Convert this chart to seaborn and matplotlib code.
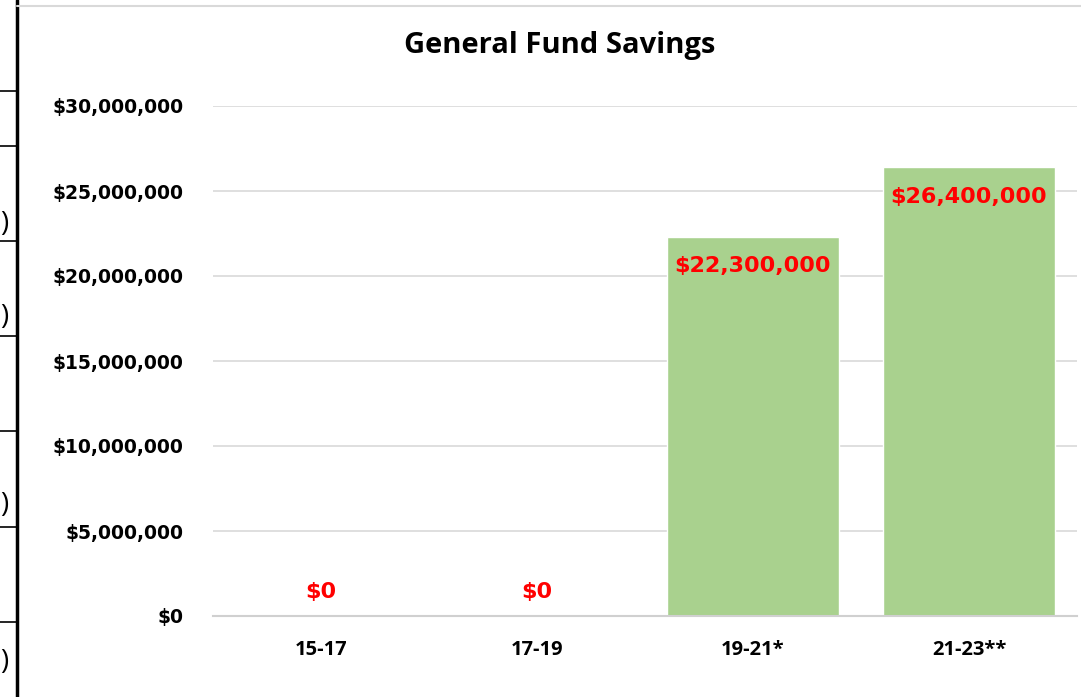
import matplotlib
matplotlib.use("Agg")
import matplotlib.pyplot as plt
from matplotlib.lines import Line2D
import seaborn as sns
import pandas as pd

# chart data
periods = ["15-17", "17-19", "19-21*", "21-23**"]
savings = [0, 0, 22300000, 26400000]
value_labels = ["$0", "$0", "$22,300,000", "$26,400,000"]
y_ticks = [0, 5000000, 10000000, 15000000, 20000000, 25000000, 30000000]

df = pd.DataFrame({"period": periods, "savings": savings})

sns.set_style("white")
plt.rcParams["font.family"] = ["Open Sans", "DejaVu Sans"]
plt.rcParams["text.color"] = "black"
plt.rcParams["xtick.color"] = "black"
plt.rcParams["ytick.color"] = "black"

W, H = 1081, 697
fig = plt.figure(figsize=(W / 100, H / 100), dpi=100)
ax = fig.add_axes([213 / W, 1 - 616 / H, (1077 - 213) / W, (616 - 106) / H])

sns.barplot(data=df, x="period", y="savings", color="#a9d18e", width=0.8,
            saturation=1, ax=ax, zorder=3)

ax.set_ylim(0, 30000000)
ax.set_yticks(y_ticks)
ax.set_yticklabels(["${:,.0f}".format(v) for v in y_ticks], fontsize=13.5,
                   fontweight="bold", family="DejaVu Sans")
ax.set_xticks(range(len(periods)))
ax.set_xticklabels(periods, fontsize=14.5, fontweight="bold")
ax.tick_params(axis="y", length=0, pad=21, labelcolor="black")
ax.tick_params(axis="x", length=0, pad=17, labelcolor="black")
ax.set_xlabel("")
ax.set_ylabel("")
ax.yaxis.grid(True, color="#d9d9d9", linewidth=1.2, zorder=0)
for s in ["top", "right", "left"]:
    ax.spines[s].set_visible(False)
ax.spines["bottom"].set_color("#d0d0d0")
ax.spines["bottom"].set_linewidth(1.5)
ax.spines["bottom"].set_zorder(4)

# data labels: inside end for bars, above the axis for zero values
for i, (v, lab) in enumerate(zip(savings, value_labels)):
    if v > 0:
        ax.annotate(lab, (i, v), xytext=(0, -14), textcoords="offset points",
                    ha="center", va="top", color="#ff0000", fontsize=16,
                    fontweight="bold", family="DejaVu Sans", zorder=5)
    else:
        ax.annotate(lab, (i, v), xytext=(0, 10), textcoords="offset points",
                    ha="center", va="bottom", color="#ff0000", fontsize=16,
                    fontweight="bold", family="DejaVu Sans", zorder=5)

fig.text(560 / W, 1 - 45 / H, "General Fund Savings", ha="center", va="center",
         fontsize=21, fontweight="bold", color="black")

# leftover table border from the source screenshot
fig.add_artist(Line2D([17 / W, 17 / W], [0, 1], color="black", linewidth=2.5))
fig.add_artist(Line2D([17 / W, 1], [1 - 6 / H, 1 - 6 / H], color="#d9d9d9", linewidth=1.5))
for yy in [91, 146, 241, 336, 431, 527, 622]:
    fig.add_artist(Line2D([0, 17 / W], [1 - yy / H, 1 - yy / H], color="black", linewidth=1.2))
for yy in [224, 317, 505, 662]:
    fig.text(0, 1 - yy / H, ")", ha="left", va="center", fontsize=20)

fig.savefig("out.png", dpi=100)
